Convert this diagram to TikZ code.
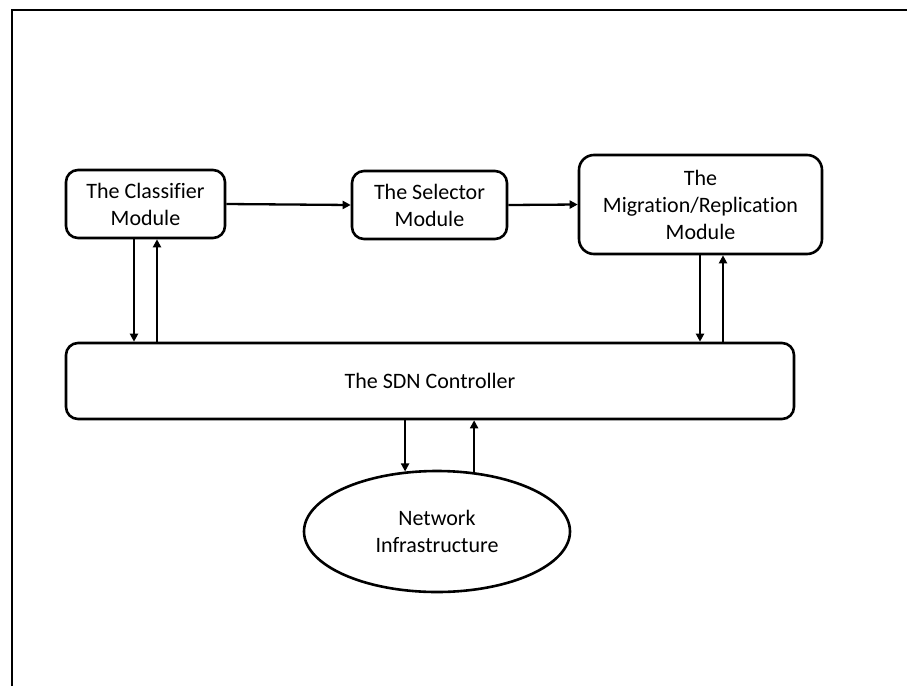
\documentclass[tikz,border=0pt]{standalone}
\usepackage{fontspec}
\setmainfont[Ligatures=NoCommon]{Carlito}
\usetikzlibrary{arrows.meta,shapes.geometric}
\begin{document}
\begin{tikzpicture}[x=1pt,y=-1pt,
  box/.style={draw,line width=2.6pt,rounded corners=12pt,align=center,inner sep=0pt,
    font=\fontsize{22}{27}\selectfont},
  arr/.style={line width=2.3pt,-{Triangle[length=8pt,width=8pt]}},
  lbl/.style={font=\fontsize{22}{27}\selectfont,align=center}]
\useasboundingbox (0,0) rectangle (907,686);
\draw[line width=2.8pt] (12,686) -- (12,10) -- (907,10);
\node[box,minimum width=159pt,minimum height=68pt] (cls) at (145.5,204) {The Classifier\\Module};
\node[box,minimum width=155pt,minimum height=68pt] (sel) at (429.5,205) {The Selector\\Module};
\node[box,rounded corners=15pt,minimum width=243pt,minimum height=99pt] (mig) at (700.5,204.5) {The\\Migration/Replication\\Module};
\node[box,minimum width=728pt,minimum height=76pt] (sdn) at (430,381) {The SDN Controller};
\node[draw,line width=2.6pt,ellipse,inner sep=0pt,minimum width=266pt,minimum height=121pt,lbl] (net) at (437,531.5) {Network\\Infrastructure};
\draw[arr] (cls.east) -- (sel.west);
\draw[arr] (sel.east) -- (mig.west);
\draw[arr] ([xshift=-11.5pt]cls.south) -- ([xshift=-11.5pt]cls.south |- sdn.north);
\draw[arr] ([xshift=11.5pt]cls.south |- sdn.north) -- ([xshift=11.5pt]cls.south);
\draw[arr] ([xshift=-0.5pt]mig.south) -- ([xshift=-0.5pt]mig.south |- sdn.north);
\draw[arr] ([xshift=22.5pt]mig.south |- sdn.north) -- ([xshift=22.5pt]mig.south);
\draw[arr] (sdn.south -| net.118) -- (net.118);
\draw[arr] (net.58) -- (sdn.south -| net.58);
\end{tikzpicture}
\end{document}
